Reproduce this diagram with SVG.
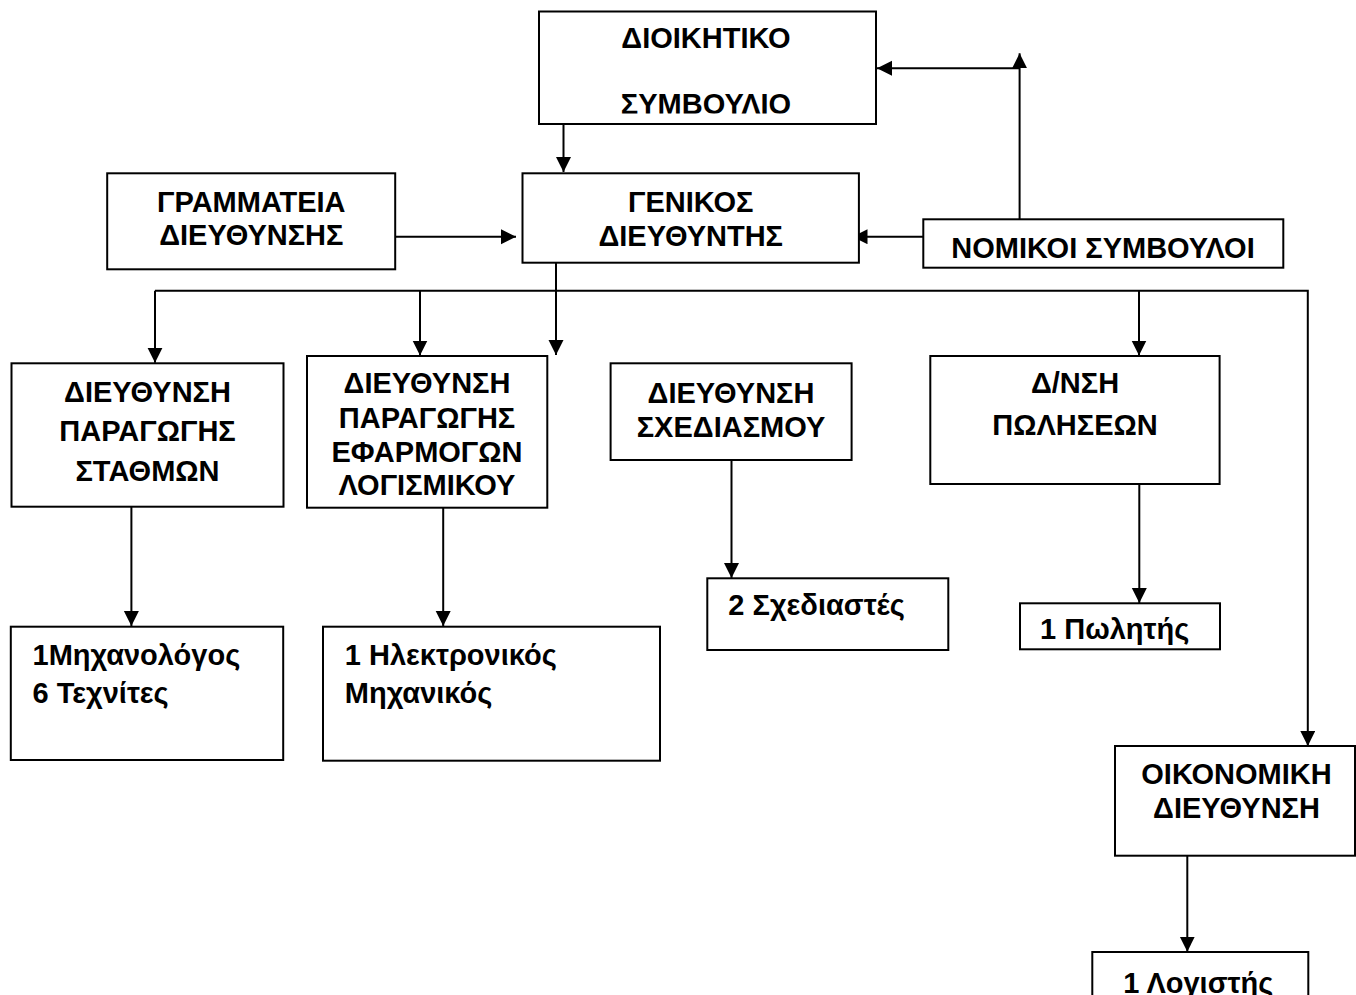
<svg xmlns="http://www.w3.org/2000/svg" width="1356" height="995" viewBox="0 0 1356 995">
<style>
.box{fill:#fff;stroke:#000;stroke-width:2}
.t{font-family:"Liberation Sans",Arial,sans-serif;font-weight:bold;font-size:29px;fill:#000}
.c{text-anchor:middle}
.ln{fill:none;stroke:#000;stroke-width:2}
</style>
<defs>
<marker id="ah" markerUnits="userSpaceOnUse" markerWidth="16" markerHeight="16" refX="15" refY="7.5" orient="auto">
<path d="M0,0 L15,7.5 L0,15 z" fill="#000"/>
</marker>
<clipPath id="clipD"><rect x="539" y="11" width="337" height="102.5"/></clipPath>
</defs>
<rect width="1356" height="995" fill="#fff"/>

<g id="connectors">
<path class="ln" d="M563.5,124 V172" marker-end="url(#ah)"/>
<path class="ln" d="M395.3,236.7 H516" marker-end="url(#ah)"/>
<path class="ln" d="M923.3,236.7 H852.5" marker-end="url(#ah)"/>
<path class="ln" d="M1019.6,219.3 V53.3" marker-end="url(#ah)"/>
<path class="ln" d="M1019.6,68.3 H877" marker-end="url(#ah)"/>
<path class="ln" d="M556,262.7 V355" marker-end="url(#ah)"/>
<path class="ln" d="M155,290.7 H1307.8 V746" marker-end="url(#ah)"/>
<path class="ln" d="M155,290.7 V362.7" marker-end="url(#ah)"/>
<path class="ln" d="M420,290.7 V355.5" marker-end="url(#ah)"/>
<path class="ln" d="M1139,290.7 V355.5" marker-end="url(#ah)"/>
<path class="ln" d="M131.4,506.7 V626" marker-end="url(#ah)"/>
<path class="ln" d="M443.2,507.7 V626" marker-end="url(#ah)"/>
<path class="ln" d="M731.5,460 V578" marker-end="url(#ah)"/>
<path class="ln" d="M1139.3,484 V603" marker-end="url(#ah)"/>
<path class="ln" d="M1187.3,855.7 V951.7" marker-end="url(#ah)"/>
</g>

<g id="dioikitiko">
<rect class="box" x="539" y="11.5" width="337" height="112.5"/>
<text class="t c" x="706" y="48.3">ΔΙΟΙΚΗΤΙΚΟ</text>
<text class="t c" x="706" y="114.3" clip-path="url(#clipD)">ΣΥΜΒΟΥΛΙΟ</text>
</g>

<g id="genikos">
<rect class="box" x="522.5" y="173.3" width="336.4" height="89.4"/>
<text class="t c" x="690.7" y="212.3">ΓΕΝΙΚΟΣ</text>
<text class="t c" x="690.7" y="245.7">ΔΙΕΥΘΥΝΤΗΣ</text>
</g>

<g id="grammateia">
<rect class="box" x="107.2" y="173.3" width="288" height="96"/>
<text class="t c" x="251.3" y="211.7">ΓΡΑΜΜΑΤΕΙΑ</text>
<text class="t c" x="251.3" y="245">ΔΙΕΥΘΥΝΣΗΣ</text>
</g>

<g id="nomikoi">
<rect class="box" x="923.3" y="219.3" width="360" height="48.4"/>
<text class="t c" x="1103" y="258.3">ΝΟΜΙΚΟΙ ΣΥΜΒΟΥΛΟΙ</text>
</g>

<g id="d_stathmon">
<rect class="box" x="11.5" y="363.3" width="272" height="143.4"/>
<text class="t c" x="147.5" y="401.7">ΔΙΕΥΘΥΝΣΗ</text>
<text class="t c" x="147.5" y="440.7">ΠΑΡΑΓΩΓΗΣ</text>
<text class="t c" x="147.5" y="480.5">ΣΤΑΘΜΩΝ</text>
</g>

<g id="d_logismikou">
<rect class="box" x="307" y="356" width="240.3" height="151.7"/>
<text class="t c" x="427" y="392.7">ΔΙΕΥΘΥΝΣΗ</text>
<text class="t c" x="427" y="428.3">ΠΑΡΑΓΩΓΗΣ</text>
<text class="t c" x="427" y="461.7">ΕΦΑΡΜΟΓΩΝ</text>
<text class="t c" x="427" y="495">ΛΟΓΙΣΜΙΚΟΥ</text>
</g>

<g id="d_sxediasmou">
<rect class="box" x="610.6" y="363.3" width="241" height="96.7"/>
<text class="t c" x="731" y="403.3">ΔΙΕΥΘΥΝΣΗ</text>
<text class="t c" x="731" y="436.7">ΣΧΕΔΙΑΣΜΟΥ</text>
</g>

<g id="d_poliseon">
<rect class="box" x="930.3" y="356" width="289.3" height="128"/>
<text class="t c" x="1075" y="393.3">Δ/ΝΣΗ</text>
<text class="t c" x="1075" y="435">ΠΩΛΗΣΕΩΝ</text>
</g>

<g id="oikonomiki">
<rect class="box" x="1115" y="746" width="240" height="109.7"/>
<text class="t c" x="1236.5" y="784">ΟΙΚΟΝΟΜΙΚΗ</text>
<text class="t c" x="1236.5" y="818.3">ΔΙΕΥΘΥΝΣΗ</text>
</g>

<g id="mixanologos">
<rect class="box" x="10.8" y="626.7" width="272.4" height="133.3"/>
<text class="t" x="32.5" y="665">1Μηχανολόγος</text>
<text class="t" x="32.5" y="702.7">6 Τεχνίτες</text>
</g>

<g id="ilektronikos">
<rect class="box" x="323" y="626.7" width="337" height="134"/>
<text class="t" x="344.8" y="665">1 Ηλεκτρονικός</text>
<text class="t" x="344.8" y="702.7">Μηχανικός</text>
</g>

<g id="sxediastes">
<rect class="box" x="707.3" y="578.3" width="241" height="71.7"/>
<text class="t" x="728.3" y="615">2 Σχεδιαστές</text>
</g>

<g id="politis">
<rect class="box" x="1020" y="603.3" width="200" height="46"/>
<text class="t" x="1040" y="639">1 Πωλητής</text>
</g>

<g id="logistis">
<rect class="box" x="1092.3" y="952" width="216" height="60"/>
<text class="t" x="1123.3" y="992.5">1 Λογιστής</text>
</g>
</svg>
